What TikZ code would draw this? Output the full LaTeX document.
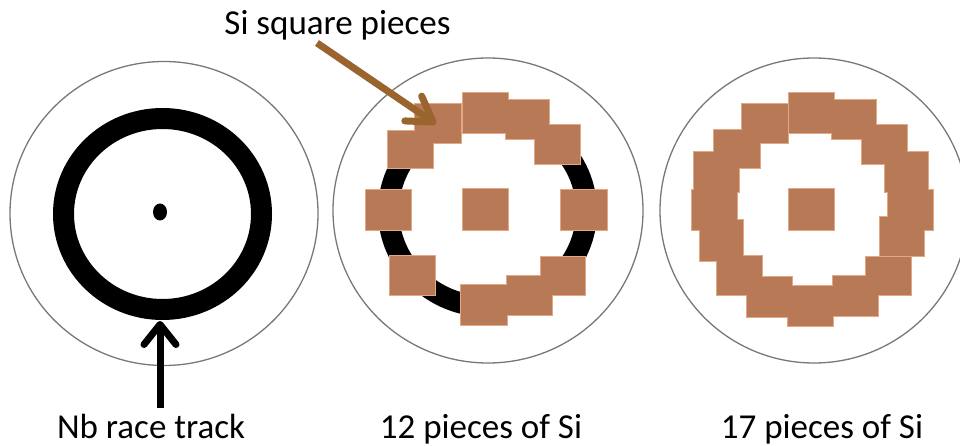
\documentclass[tikz,border=0pt]{standalone}
\usepackage{fontspec}
\setmainfont{Carlito}
\usetikzlibrary{arrows.meta}
\definecolor{sicol}{RGB}{184,122,86}
\definecolor{siedge}{RGB}{226,168,132}
\definecolor{arrbrown}{RGB}{154,100,46}
\definecolor{diskgray}{RGB}{120,120,120}
\tikzset{
  disk/.style={draw=diskgray, line width=1.3pt},
  track/.style={draw=black, line width=21pt},
  sqedge/.style={draw=siedge, line width=1.4pt},
  sqfill/.style={fill=sicol},
  lbl/.style={anchor=base, font=\fontsize{35}{40}\selectfont, inner sep=0pt},
  blackarrow/.style={draw=black, line width=7pt, -{Straight Barb[length=20pt,width=32pt,round]}},
  brownarrow/.style={draw=arrbrown, line width=7pt, -{Straight Barb[length=24pt,width=30pt,round]}},
}
\def\midsquares{463/189/508/230, 366/190/411/230, 561/190/607/230,
  388/131/433/168, 415/104/461/143, 463/93/508/133, 506/100/549/139,
  535/125/580/164, 390/256/435/295, 507/276/552/315, 541/257/585/295,
  461/285/507/325}
\def\rightsquares{789/189/834/230, 789/93/834/133, 832/100/876/139,
  862/125/907/164, 885/152/928/192, 888/190/933/230, 880/217/924/256,
  866/257/911/295, 833/276/878/316, 747/277/792/317, 788/286/833/326,
  717/256/762/295, 700/220/743/261, 692/190/737/230, 694/152/739/192,
  714/130/760/168, 742/104/788/143}
\begin{document}
\begin{tikzpicture}[x=1pt,y=-1pt]
\useasboundingbox (0,0) rectangle (960,446);
\fill[white] (0,0) rectangle (960,446);
% disks
\draw[disk] (164,213.5) ellipse [x radius=154pt, y radius=152pt];
\draw[disk] (488,210.5) ellipse [x radius=155pt, y radius=152.5pt];
\draw[disk] (814,210.5) ellipse [x radius=154pt, y radius=152.5pt];
% race tracks
\draw[track] (162.5,214) ellipse [x radius=99pt, y radius=95.5pt];
\fill[black] (160,212) ellipse [x radius=7pt, y radius=8.5pt];
\draw[track] (487.5,211) ellipse [x radius=99pt, y radius=95.5pt];
\draw[track] (812,211) ellipse [x radius=99pt, y radius=95.5pt];
% Si squares: light outline first, then fills on top
\foreach \a/\b/\c/\d in \midsquares {\draw[sqedge] (\a,\b) rectangle (\c,\d);}
\foreach \a/\b/\c/\d in \rightsquares {\draw[sqedge] (\a,\b) rectangle (\c,\d);}
\foreach \a/\b/\c/\d in \midsquares {\fill[sqfill] (\a,\b) rectangle (\c,\d);}
\foreach \a/\b/\c/\d in \rightsquares {\fill[sqfill] (\a,\b) rectangle (\c,\d);}
% labels
\node[lbl] (nb) at (151,438) {Nb race track};
\node[lbl] (p12) at (481,438) {12 pieces of Si};
\node[lbl] (p17) at (822,438) {17 pieces of Si};
\node[lbl] (si) at (337.5,35) {Si square pieces};
% arrows
\coordinate (nbstart) at (160,408);
\coordinate (nbtip) at (160,321);
\coordinate (sistart) at (317,43);
\coordinate (sitip) at (436,124);
\draw[blackarrow] (nbstart) -- (nbtip);
\draw[brownarrow] (sistart) -- (sitip);
\end{tikzpicture}
\end{document}
